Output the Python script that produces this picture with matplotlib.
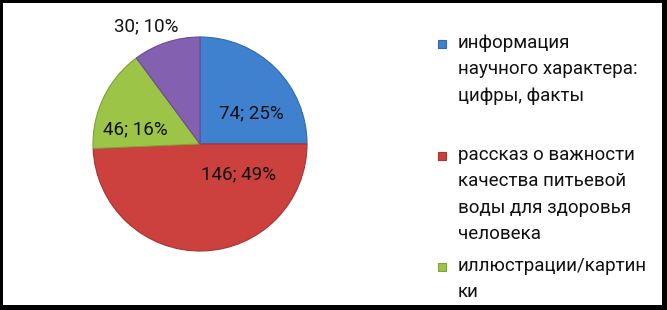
import matplotlib.pyplot as plt
from matplotlib.patches import Rectangle

# данные диаграммы
categories = [
    'информация\nнаучного характера:\nцифры, факты',
    'рассказ о важности\nкачества питьевой\nводы для здоровья\nчеловека',
    'иллюстрации/картин\nки',
    '',
]
values = [74, 146, 46, 30]
colors = ['#3F80CF', '#CC403E', '#9CC447', '#8460B0']
edge_colors = ['#2F6AAE', '#A83432', '#7EA236', '#6A4C92']

# позиции подписей (в единицах осей пирога)
label_pos = [(0.48, 0.29), (0.36, -0.28), (-0.60, 0.14), (-0.50, 1.10)]

W, H = 667, 310
plt.rcParams['font.family'] = ['Roboto', 'DejaVu Sans']

fig = plt.figure(figsize=(W / 100, H / 100), dpi=100, facecolor='black')
# белая область внутри рамки
fig.patches.append(Rectangle((3 / W, 5 / H), 659 / W, 302 / H, transform=fig.transFigure,
                             facecolor='white', edgecolor='none', zorder=-5))

cx, cy, r = 200, 144, 107
ax = fig.add_axes([(cx - r) / W, (H - cy - r) / H, 2 * r / W, 2 * r / H], zorder=2)

total = sum(values)
wedges, _ = ax.pie(values, colors=colors, startangle=90, counterclock=False, radius=1,
                   wedgeprops=dict(linewidth=0.8))
for w, ec in zip(wedges, edge_colors):
    w.set_edgecolor(ec)
ax.set_xlim(-1, 1)
ax.set_ylim(-1, 1)
ax.axis('off')

for v, (x, y) in zip(values, label_pos):
    ax.text(x, y, f'{v}; {round(v / total * 100)}%', ha='center', va='center',
            fontsize=13.5, color='#111111', clip_on=False)

# легенда вручную: равные интервалы между элементами, как в Excel
first_baseline = [48, 160, 271]
line_step = 26.3
for lab, col, ec, yb in zip(categories[:3], colors, edge_colors, first_baseline):
    fig.patches.append(Rectangle((438 / W, (H - yb) / H), 8 / W, 8 / H, transform=fig.transFigure,
                                 facecolor=col, edgecolor=ec, linewidth=0.8, zorder=3))
    for i, line in enumerate(lab.split('\n')):
        fig.text(458 / W, (H - yb - i * line_step) / H, line, ha='left', va='baseline',
                 fontsize=13.5, color='#111111')

fig.savefig('out.png', dpi=100, facecolor=fig.get_facecolor())
